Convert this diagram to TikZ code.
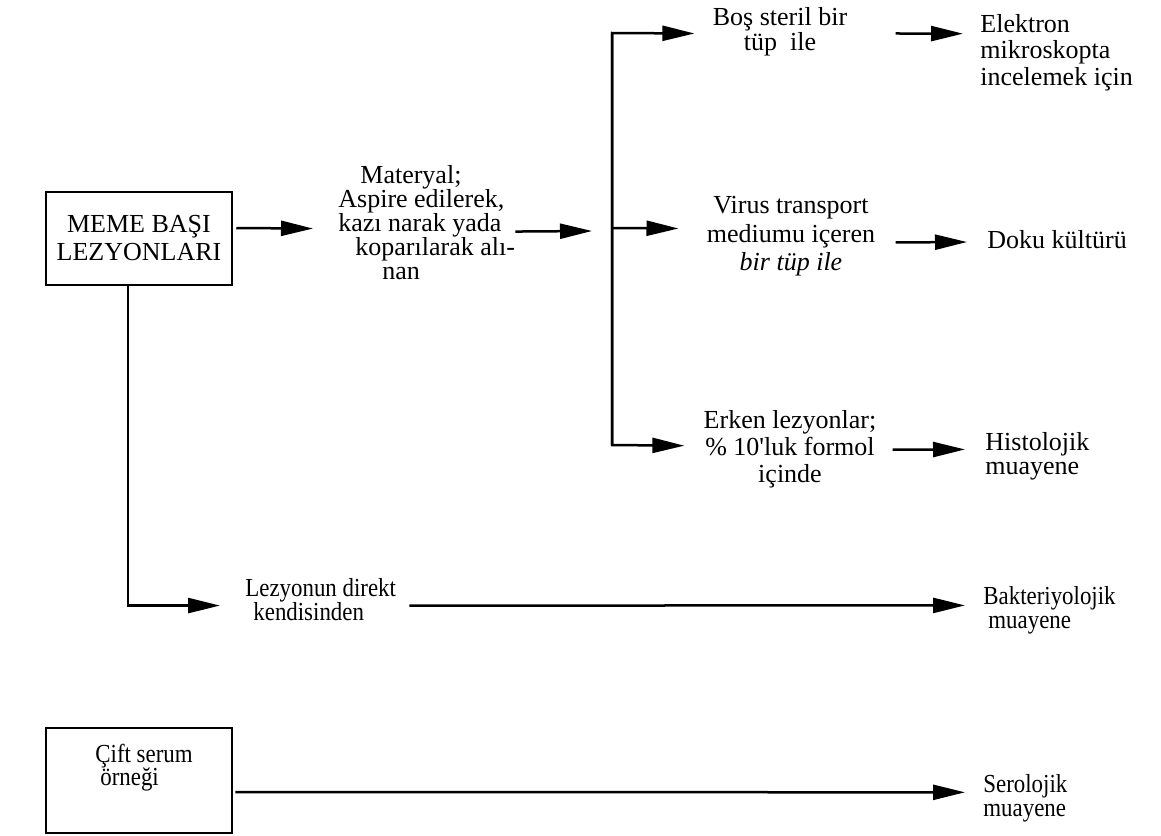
\documentclass[tikz,border=0pt]{standalone}
\usepackage{fontspec}
\setmainfont{Liberation Serif}
\newfontfamily\darfont[FakeStretch=0.88]{Liberation Serif}
\usetikzlibrary{arrows.meta,calc}
\setlength{\lineskiplimit}{-20pt}
\tikzstyle{kutu}=[draw, line width=1.25pt, inner sep=0pt]
\tikzstyle{yazi}=[inner sep=0pt]
\tikzstyle{hat}=[line width=1.25pt]
\tikzstyle{ok}=[hat, -{Triangle[length=16pt,width=7.5pt]}]

\begin{document}
\begin{tikzpicture}[x=0.5pt,y=-0.5pt]
	\useasboundingbox (0,0) rectangle (1161,835);
	\node[kutu, minimum width=93pt, minimum height=46.5pt, align=center, font=\fontsize{13}{14}\selectfont] (meme) at (139,238.5) {MEME BAŞI\\LEZYONLARI};
	\node[yazi, align=left, anchor=north west, font=\fontsize{13}{12}\selectfont] (materyal) at (338,165) {\hspace*{11pt}Materyal;\\Aspire edilerek,\\kazı narak yada\\\hspace*{8.5pt}koparılarak alı-\\\hspace*{22pt}nan};
	\node[yazi, align=center, anchor=north, font=\fontsize{13}{12.5}\selectfont] (bos) at (780,7.2) {Boş steril bir\\tüp\ \ ile};
	\node[yazi, align=left, anchor=north west, font=\fontsize{13}{13.25}\selectfont] (elektron) at (980,14) {Elektron\\mikroskopta\\incelemek için};
	\node[yazi, align=center, anchor=north, font=\fontsize{13}{14.25}\selectfont] (virus) at (791,196) {Virus transport\\mediumu içeren\\\textit{bir tüp ile}};
	\node[yazi, anchor=base west, font=\fontsize{13}{14}\selectfont] (doku) at (987,248) {Doku kültürü};
	\node[yazi, align=center, anchor=north, font=\fontsize{13}{13.5}\selectfont] (erken) at (790,410) {Erken lezyonlar;\\\% 10\textquotesingle luk formol\\içinde};
	\node[yazi, align=left, anchor=north west, font=\fontsize{13}{12}\selectfont] (histo) at (985,432) {Histolojik\\muayene};
	\node[yazi, align=left, anchor=north west, font=\darfont\fontsize{13}{12}\selectfont] (lezyonun) at (245,578) {Lezyonun direkt\\\hspace*{4pt}kendisinden};
	\node[yazi, align=left, anchor=north west, font=\darfont\fontsize{13}{12}\selectfont] (bakteri) at (983,586) {Bakteriyolojik\\\hspace*{2.5pt}muayene};
	\node[kutu, minimum width=93pt, minimum height=52.5pt] (cift) at (139,780.5) {};
	\node[yazi, align=left, anchor=north west, font=\darfont\fontsize{13}{11.5}\selectfont] (ciftyazi) at (95,744) {Çift serum\\\hspace*{2.5pt}örneği};
	\node[yazi, align=left, anchor=north west, font=\darfont\fontsize{13}{12}\selectfont] (seroloji) at (983,774) {Serolojik\\muayene};
	\coordinate (ust) at (612,33);
	\coordinate (orta) at (612,228);
	\coordinate (alt) at (612,445);
	\draw[ok] ($(meme.east)+(3,-10.5)$) -- ($(materyal.west)+(-25,6)$);
	\draw[ok] ($(materyal.east)+(0,9)$) -- ($(orta)+(-20,3)$);
	\draw[ok] (alt) -- (ust) -- ($(bos.west)+(-18,1.6)$);
	\draw[ok] (orta) -- ($(virus.west)+(-28,-7.8)$);
	\draw[ok] (ust) -- (alt) -- ($(erken.west)+(-19,-3.5)$);
	\draw[ok] ($(bos.east)+(48,1.6)$) -- ($(elektron.west)+(-17,-19)$);
	\draw[ok] ($(virus.east)+(20,6.2)$) -- ($(doku.west)+(-20,2.9)$);
	\draw[ok] ($(erken.east)+(16,0.5)$) -- ($(histo.west)+(-20,-6.8)$);
	\draw[ok] ($(meme.south)+(-11,0)$) |- ($(lezyonun.west)+(-25,6)$);
	\draw[ok] ($(lezyonun.east)+(13,6)$) -- ($(bakteri.west)+(-18,-4.8)$);
	\draw[ok] ($(cift.east)+(2,11.5)$) -- ($(seroloji.west)+(-18,-5.9)$);
\end{tikzpicture}
\end{document}
